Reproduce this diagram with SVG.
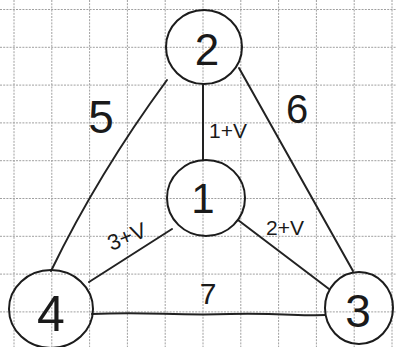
<svg xmlns="http://www.w3.org/2000/svg" width="396" height="347" viewBox="0 0 396 347">
<style>
.grid line{stroke:#a0a0a0;stroke-width:1;stroke-dasharray:2 1.2}
.node{fill:none;stroke:#1c1c1c;stroke-width:2}
.edge{fill:none;stroke:#222;stroke-width:2;stroke-linecap:round}
.nl{font-family:"Liberation Sans",Arial,sans-serif;fill:#1a1a1a;text-anchor:middle}
.el{font-family:"Liberation Sans",Arial,sans-serif;fill:#1a1a1a;text-anchor:middle}
</style>
<rect width="396" height="347" fill="#fff"/>
<g class="grid">
<line x1="14" y1="0" x2="14" y2="347"/>
<line x1="51.8" y1="0" x2="51.8" y2="347"/>
<line x1="89.6" y1="0" x2="89.6" y2="347"/>
<line x1="127.4" y1="0" x2="127.4" y2="347"/>
<line x1="165.2" y1="0" x2="165.2" y2="347"/>
<line x1="203" y1="0" x2="203" y2="347"/>
<line x1="240.8" y1="0" x2="240.8" y2="347"/>
<line x1="278.6" y1="0" x2="278.6" y2="347"/>
<line x1="316.4" y1="0" x2="316.4" y2="347"/>
<line x1="354.2" y1="0" x2="354.2" y2="347"/>
<line x1="392" y1="0" x2="392" y2="347"/>
<line x1="0" y1="9.5" x2="396" y2="9.5"/>
<line x1="0" y1="47.3" x2="396" y2="47.3"/>
<line x1="0" y1="85.1" x2="396" y2="85.1"/>
<line x1="0" y1="122.9" x2="396" y2="122.9"/>
<line x1="0" y1="160.7" x2="396" y2="160.7"/>
<line x1="0" y1="198.5" x2="396" y2="198.5"/>
<line x1="0" y1="236.3" x2="396" y2="236.3"/>
<line x1="0" y1="274.1" x2="396" y2="274.1"/>
<line x1="0" y1="311.9" x2="396" y2="311.9"/>
</g>
<g id="connectors">
<path class="edge" d="M203,85 L203,160"/>
<path class="edge" d="M167,80 Q98,174 51,271"/>
<path class="edge" d="M239,68 L353,271"/>
<path class="edge" d="M172,229 L89,282"/>
<path class="edge" d="M238,220 L329,289"/>
<path class="edge" d="M92,314 C150,311 170,316 230,314 C280,313 300,316 325,315"/>
<text class="el" x="101" y="133" font-size="46">5</text>
<text class="el" x="297" y="123" font-size="40">6</text>
<text class="el" x="228" y="138" font-size="21">1+V</text>
<text class="el" x="285" y="235" font-size="21">2+V</text>
<text class="el" x="127" y="244" font-size="22" transform="rotate(-22 127 237)">3+V</text>
<text class="el" x="208" y="304" font-size="30">7</text>
</g>
<g id="node2"><ellipse class="node" cx="204" cy="47" rx="38" ry="37"/><text class="nl" x="207" y="65" font-size="44">2</text></g>
<g id="node1"><ellipse class="node" cx="206" cy="198" rx="39" ry="38"/><text class="nl" x="203" y="213" font-size="42">1</text></g>
<g id="node4"><ellipse class="node" cx="51" cy="309" rx="42" ry="39"/><text class="nl" x="51" y="331" font-size="50">4</text></g>
<g id="node3"><ellipse class="node" cx="359" cy="308" rx="34" ry="36"/><text class="nl" x="358" y="327" font-size="46">3</text></g>
</svg>
